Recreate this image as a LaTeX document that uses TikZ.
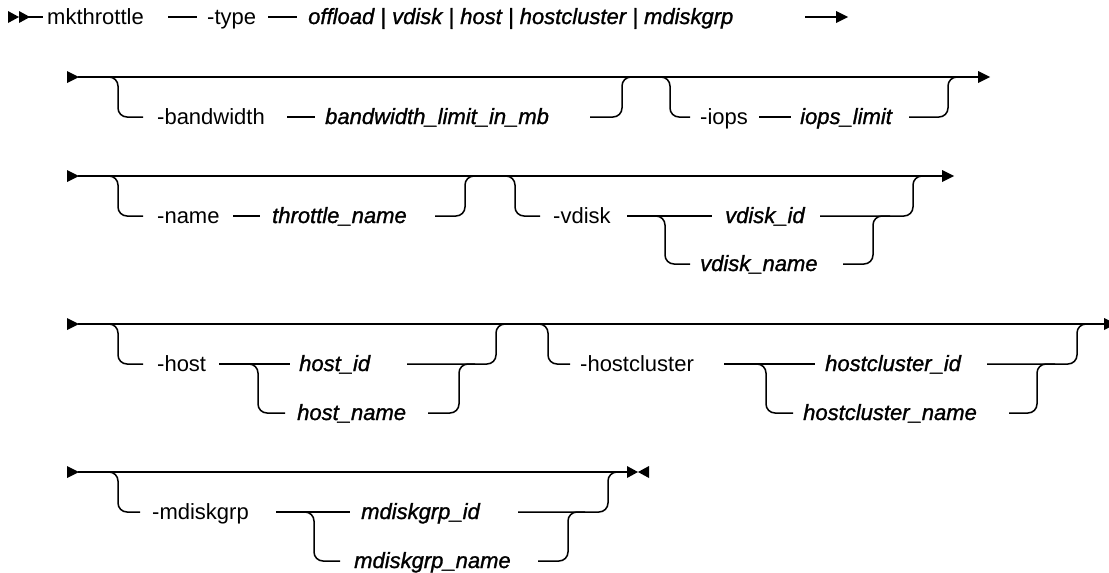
\documentclass[tikz,border=0pt]{standalone}
\usepackage{fontspec}
\setmainfont{Liberation Sans}
\newfontfamily\varfam{Liberation Sans}[FakeBold=1.2]
\begin{document}
\begin{tikzpicture}[x=1pt,y=-1pt,
  ln/.style={line width=1.5pt},
  rr/.style={line width=1.5pt, rounded corners=9pt},
  kw/.style={anchor=base west, inner sep=0pt, font=\fontsize{22}{26}\selectfont},
  var/.style={anchor=base west, inner sep=0pt, font=\fontsize{22}{26}\selectfont\varfam\itshape},
  tip/.style={fill=black}]
\useasboundingbox (0,0) rectangle (1109,573);
% ---------- row 1
\fill[tip] (8,11) -- (8,23) -- (19,17) -- cycle;
\fill[tip] (19,11) -- (19,23) -- (30,17) -- cycle;
\draw[ln] (28,17) -- (43,17);
\node[kw] (mk) at (47,24) {mkthrottle};
\draw[ln] (168,17) -- (197,17);
\node[kw] (type) at (207,24) {-type};
\draw[ln] (268,17) -- (297,17);
\node[var] (typev) at (308,24) {offload | vdisk | host | hostcluster | mdiskgrp};
\draw[ln] (805,17) -- (837,17);
\fill[tip] (836,11) -- (836,23) -- (848,17) -- cycle;
% ---------- row 2
\fill[tip] (67,71) -- (67,83) -- (79,77) -- cycle;
\draw[ln] (78,77) -- (980,77);
\fill[tip] (978,71) -- (978,83) -- (990,77) -- cycle;
\draw[rr] (100,77) -- (118,77) -- (118,117) -- (143,117);
\node[kw] (bw) at (157,124) {-bandwidth};
\draw[ln] (287,117) -- (315,117);
\node[var] (bwv) at (325,124) {bandwidth\_limit\_in\_mb};
\draw[rr] (590,117) -- (622,117) -- (622,77) -- (640,77);
\draw[rr] (650,77) -- (670,77) -- (670,117) -- (690,117);
\node[kw] (iops) at (700,124) {-iops};
\draw[ln] (759,117) -- (791,117);
\node[var] (iopsv) at (800,124) {iops\_limit};
\draw[rr] (909,117) -- (948,117) -- (948,77) -- (965,77);
% ---------- row 3
\fill[tip] (67,170) -- (67,182) -- (79,176) -- cycle;
\draw[ln] (78,176) -- (944,176);
\fill[tip] (942,170) -- (942,182) -- (954,176) -- cycle;
\draw[rr] (100,176) -- (118,176) -- (118,216) -- (143,216);
\node[kw] (nm) at (157,223) {-name};
\draw[ln] (233,216) -- (260,216);
\node[var] (nmv) at (272,223) {throttle\_name};
\draw[rr] (435,216) -- (465,216) -- (465,176) -- (480,176);
\draw[rr] (497,176) -- (515,176) -- (515,216) -- (540,216);
\node[kw] (vd) at (553,223) {-vdisk};
\draw[ln] (627,216) -- (712,216);
\draw[rr] (650,216) -- (665,216) -- (665,264) -- (690,264);
\node[var] (vdid) at (725,223) {vdisk\_id};
\node[var] (vdnm) at (700,271) {vdisk\_name};
\draw[rr] (820,216) -- (913,216) -- (913,176) -- (930,176);
\draw[rr] (843,264) -- (873,264) -- (873,216) -- (890,216);
% ---------- row 4
\fill[tip] (67,318) -- (67,330) -- (79,324) -- cycle;
\draw[ln] (78,324) -- (1109,324);
\fill[tip] (1104,318) -- (1104,330) -- (1116,324) -- cycle;
\draw[rr] (100,324) -- (118,324) -- (118,364) -- (143,364);
\node[kw] (hs) at (157,371) {-host};
\draw[ln] (219,364) -- (290,364);
\draw[rr] (240,364) -- (258,364) -- (258,413) -- (285,413);
\node[var] (hsid) at (299,371) {host\_id};
\node[var] (hsnm) at (297,420) {host\_name};
\draw[rr] (407,364) -- (496,364) -- (496,324) -- (512,324);
\draw[rr] (428,413) -- (459,413) -- (459,364) -- (475,364);
\draw[rr] (530,324) -- (548,324) -- (548,364) -- (570,364);
\node[kw] (hc) at (580,371) {-hostcluster};
\draw[ln] (724,364) -- (815,364);
\draw[rr] (748,364) -- (766,364) -- (766,413) -- (793,413);
\node[var] (hcid) at (825,371) {hostcluster\_id};
\node[var] (hcnm) at (803,420) {hostcluster\_name};
\draw[rr] (987,364) -- (1077,364) -- (1077,324) -- (1095,324);
\draw[rr] (1009,413) -- (1037,413) -- (1037,364) -- (1055,364);
% ---------- row 5
\fill[tip] (67,466) -- (67,478) -- (79,472) -- cycle;
\draw[ln] (78,472) -- (630,472);
\fill[tip] (627,466) -- (627,478) -- (638,472) -- cycle;
\fill[tip] (649,466) -- (649,478) -- (638,472) -- cycle;
\draw[rr] (100,472) -- (118,472) -- (118,512) -- (140,512);
\node[kw] (md) at (152,519) {-mdiskgrp};
\draw[ln] (276,512) -- (350,512);
\draw[rr] (296,512) -- (314,512) -- (314,561) -- (340,561);
\node[var] (mdid) at (361,519) {mdiskgrp\_id};
\node[var] (mdnm) at (354,568) {mdiskgrp\_name};
\draw[rr] (518,512) -- (608,512) -- (608,472) -- (622,472);
\draw[rr] (538,561) -- (568,561) -- (568,512) -- (585,512);
\end{tikzpicture}
\end{document}
